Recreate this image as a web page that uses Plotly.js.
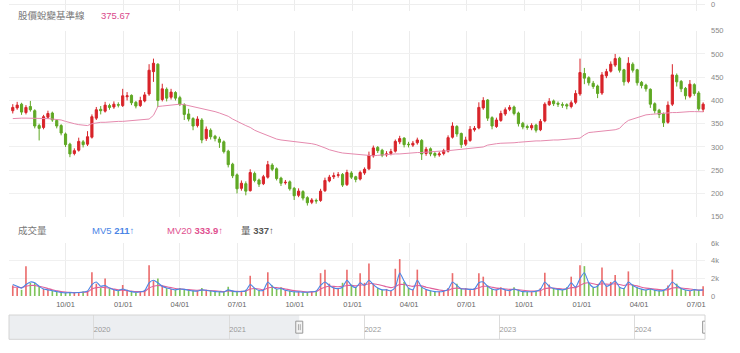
<!DOCTYPE html>
<html>
<head>
<meta charset="utf-8">
<script src="https://cdn.plot.ly/plotly-3.0.1.min.js"></script>
<style>html,body{margin:0;padding:0;background:#fff;}#chart{width:740px;height:353px;}</style>
</head>
<body>
<div id="chart"></div>
<script>
// Weekly sampling of the daily chart (Fridays)
const dates = [
'2021-07-09','2021-07-16','2021-07-23','2021-07-30','2021-08-06','2021-08-13','2021-08-20','2021-08-27','2021-09-03','2021-09-10',
'2021-09-17','2021-09-24','2021-10-01','2021-10-08','2021-10-15','2021-10-22','2021-10-29','2021-11-05','2021-11-12','2021-11-19',
'2021-11-26','2021-12-03','2021-12-10','2021-12-17','2021-12-24','2021-12-31',
'2022-01-07','2022-01-14','2022-01-21','2022-01-28','2022-02-04','2022-02-11','2022-02-18','2022-02-25','2022-03-04','2022-03-11',
'2022-03-18','2022-03-25','2022-04-01','2022-04-08','2022-04-15','2022-04-22','2022-04-29','2022-05-06','2022-05-13','2022-05-20',
'2022-05-27','2022-06-03','2022-06-10','2022-06-17','2022-06-24','2022-07-01','2022-07-08','2022-07-15','2022-07-22','2022-07-29',
'2022-08-05','2022-08-12','2022-08-19','2022-08-26','2022-09-02','2022-09-09','2022-09-16','2022-09-23','2022-09-30','2022-10-07',
'2022-10-14','2022-10-21','2022-10-28','2022-11-04','2022-11-11','2022-11-18','2022-11-25','2022-12-02','2022-12-09','2022-12-16',
'2022-12-23','2022-12-30',
'2023-01-06','2023-01-13','2023-01-20','2023-01-27','2023-02-03','2023-02-10','2023-02-17','2023-02-24','2023-03-03','2023-03-10',
'2023-03-17','2023-03-24','2023-03-31','2023-04-07','2023-04-14','2023-04-21','2023-04-28','2023-05-05','2023-05-12','2023-05-19',
'2023-05-26','2023-06-02','2023-06-09','2023-06-16','2023-06-23','2023-06-30','2023-07-07','2023-07-14','2023-07-21','2023-07-28',
'2023-08-04','2023-08-11','2023-08-18','2023-08-25','2023-09-01','2023-09-08','2023-09-15','2023-09-22','2023-09-29','2023-10-06',
'2023-10-13','2023-10-20','2023-10-27','2023-11-03','2023-11-10','2023-11-17','2023-11-24','2023-12-01','2023-12-08','2023-12-15',
'2023-12-22','2023-12-29',
'2024-01-05','2024-01-12','2024-01-19','2024-01-26','2024-02-02','2024-02-09','2024-02-16','2024-02-23','2024-03-01','2024-03-08',
'2024-03-15','2024-03-22','2024-03-29','2024-04-05','2024-04-12','2024-04-19','2024-04-26','2024-05-03','2024-05-10','2024-05-17',
'2024-05-24','2024-05-31','2024-06-07','2024-06-14','2024-06-21','2024-06-28','2024-07-05','2024-07-12'
];

const openP = [
378,384,392,374,387,378,346,342,364,373, 357,346,328,306,286,293,311,306,321,362,
381,377,389,386,391,389,408,411,396,389, 399,414,462,478,402,424,407,417,406,391,
371,361,346,358,318,336,323,317,311,291, 263,240,211,221,206,243,229,221,235,261,
253,233,223,225,211,196,204,191,181,185, 185,206,227,236,239,241,219,244,236,231,
244,253,281,299,293,283,286,291,311,319, 306,304,309,314,286,296,286,283,286,291,
321,344,329,306,314,337,341,384,401,363, 344,357,371,381,386,373,351,344,341,347,
337,356,391,399,394,391,391,387,396,414, 458,449,437,431,416,453,463,476,491,466,
441,478,466,439,433,424,393,379,371,353, 392,454,441,426,409,434,416,381
];
const highP = [
392,397,395,390,399,381,350,369,378,376, 360,349,331,309,297,320,315,334,370,386,
388,397,393,398,396,425,418,413,399,408, 418,478,490,480,436,428,425,420,410,394,
382,364,366,362,344,340,326,322,314,294, 266,243,228,226,252,247,232,240,270,265,
256,236,229,228,214,211,207,194,190,189, 210,234,240,245,246,244,251,248,238,249,
256,290,303,302,296,291,296,316,324,321, 311,313,320,317,300,299,289,290,296,325,
353,347,331,322,345,345,396,407,403,366, 363,378,385,390,389,376,354,348,351,350,
360,396,405,402,398,396,394,400,422,490, 470,452,442,434,461,468,484,500,494,468,
493,482,468,442,436,426,396,382,374,398, 478,458,444,429,444,437,420,396
];
const lowP = [
372,380,369,370,376,340,314,338,360,354, 340,325,300,278,282,290,299,302,318,358,
370,374,380,382,385,386,400,390,383,386, 396,410,440,386,398,398,402,400,388,358,
355,336,342,308,313,316,312,298,286,256, 233,200,206,196,204,224,214,218,232,248,
228,216,219,206,186,192,185,174,177,178, 182,203,224,231,234,214,216,231,224,228,
240,250,277,287,278,279,282,288,306,299, 299,300,305,272,281,280,277,279,282,288,
318,322,298,302,311,333,338,380,356,338, 341,354,367,377,368,344,338,337,336,331,
334,353,388,388,386,384,381,383,392,410, 435,432,425,405,412,448,460,472,460,432,
437,460,432,426,419,384,372,362,343,350, 388,430,418,402,405,410,378,375
];
const closeP = [
385,390,375,385,380,345,340,365,372,358, 345,330,305,285,292,312,305,322,365,380,
378,390,385,392,390,410,410,395,388,400, 412,465,480,400,425,405,418,405,392,370,
360,345,360,315,338,322,318,310,290,262, 238,210,222,205,245,228,220,236,262,252,
232,222,224,210,195,205,190,180,186,184, 205,228,235,238,240,218,245,235,230,245,
252,282,298,292,282,285,290,312,318,305, 305,308,315,285,295,285,282,285,292,320,
345,328,305,315,338,340,385,400,362,345, 358,372,380,385,372,350,343,342,346,336,
355,392,398,393,392,390,388,395,415,460, 448,438,430,415,455,462,478,490,465,440,
480,465,438,432,425,392,378,370,352,390, 455,440,425,410,435,415,382,392
];
// 股價蛻變基準線
const baseline = [
361,362,362,362,362,362,361,361,361,360, 359,358,355,352,350,348,347,346,350,352,
353,353,354,354,355,355,356,357,357,358, 359,360,368,387,388,389,390,391,392,391,
389,387,385,383,381,379,376,373,370,366, 360,355,350,346,342,336,332,328,324,320,
317,315,314,313,312,311,310,309,307,305, 302,298,294,291,289,287,286,285,284,283,
282,281,281,282,283,284,284,285,285,286, 287,287,288,288,289,289,290,291,291,292,
293,293,294,295,296,297,298,300,304,306, 307,308,308,309,309,310,311,312,312,313,
313,314,314,315,315,316,316,317,318,319, 326,331,332,333,334,335,336,337,340,350,
357,360,363,366,369,370,371,372,372,373, 374,374,375,375,376,376,376,375.67
];
const volume = [
1200,900,700,3400,1500,1500,1100,800,700,600, 500,400,350,400,350,400,500,600,2700,1400,
900,2000,800,700,600,1250,700,500,400,500, 700,3500,1700,2000,1200,900,800,700,900,800,
700,600,600,900,700,600,500,500,450,1050, 600,500,600,700,2300,800,600,700,2700,1200,
800,1000,700,600,500,500,400,450,500,600, 2600,3000,1400,1000,900,1500,3000,1300,1000,2600,
1500,3700,1400,900,700,800,600,3100,4200,1600, 900,700,3000,1000,800,600,500,500,600,900,
2600,1400,800,900,800,900,2600,2200,1200,800, 700,1000,700,600,1000,700,500,500,500,600,
900,2650,1300,900,800,700,1000,2200,1100,3500, 3400,1500,1000,1300,3250,1200,1600,2400,1000,900,
2800,1300,1000,800,700,900,700,600,700,1200, 3000,1400,900,700,600,800,700,1100
];
const mv5 = [
1300,1100,900,1300,1600,1500,1100,800,700,600, 500,400,350,380,360,400,450,550,1300,1600,
1100,1200,900,700,600,800,650,500,420,480, 600,1500,1800,1500,1100,900,800,700,800,750,
650,580,560,700,650,560,500,480,450,700, 550,480,520,600,1300,900,620,650,1600,1100,
800,850,650,560,480,470,420,430,480,550, 1200,1600,1200,900,850,1000,1800,1200,950,1500,
1200,1800,1300,900,700,700,600,1000,2600,1700, 900,700,1800,1000,750,600,500,480,550,750,
1600,1200,800,800,750,800,1500,1600,1100,800, 700,850,700,600,800,650,500,480,480,550,
750,1600,1100,850,750,700,850,1500,1000,2000, 2650,1500,1000,1100,1800,1100,1300,1700,1000,850,
1600,1200,950,780,680,800,650,580,640,950, 1600,1200,850,680,600,720,650,700
];
const mv20 = [
1000,1000,950,1100,1200,1200,1100,1000,850,700, 600,500,450,420,400,400,420,450,800,950,
1000,950,900,800,700,650,600,550,500,500, 520,900,1100,1200,1150,1050,950,850,800,760,
720,680,650,680,660,620,580,540,500,560, 550,530,520,540,800,850,800,700,900,1000,
950,900,800,700,620,560,500,460,470,500, 800,1000,1100,1100,1050,1100,1200,1200,1150,1250,
1250,1400,1400,1300,1200,1050,950,1100,1300,1300, 1200,1100,1200,1150,1000,900,780,680,620,650,
850,900,850,800,750,750,950,1100,1100,1000, 900,850,800,750,750,700,650,600,560,560,
600,850,900,900,850,800,800,950,950,1200, 1450,1500,1400,1300,1400,1350,1350,1400,1300,1200,
1300,1250,1150,1000,900,850,780,720,680,720, 900,950,900,850,800,720,680,650
];
// latest values shown in the legends
const lastMV5 = '211';
const lastMV20 = '333.9';
const lastVol = '337';

const viewRange = ['2021-07-03', '2024-07-15'];
const navRange = ['2019-05-17', '2024-07-09'];

const RED = '#d8242a', GREEN = '#5fa824';
const FONT = "'Liberation Sans', Arial, 'Noto Sans CJK TC', sans-serif";

const volColors = closeP.map((c, i) => c >= openP[i] ? 'rgba(228,60,60,0.75)' : 'rgba(95,180,50,0.8)');

const traces = [
  {type:'candlestick', x:dates, open:openP, high:highP, low:lowP, close:closeP, xaxis:'x', yaxis:'y',
   increasing:{line:{color:RED,width:1}, fillcolor:RED}, decreasing:{line:{color:GREEN,width:1}, fillcolor:GREEN},
   whiskerwidth:0, hoverinfo:'skip'},
  {type:'scatter', mode:'lines', x:dates, y:baseline, xaxis:'x', yaxis:'y', line:{color:'#e58aae', width:1}, hoverinfo:'skip'},
  {type:'bar', x:dates, y:volume, xaxis:'x', yaxis:'y2', marker:{color:volColors, line:{width:0}}, width:2.6*86400000, hoverinfo:'skip'},
  {type:'scatter', mode:'lines', x:dates, y:mv20, xaxis:'x', yaxis:'y2', line:{color:'#e0609a', width:1.1, shape:'spline', smoothing:0.6}, hoverinfo:'skip'},
  {type:'scatter', mode:'lines', x:dates, y:mv5, xaxis:'x', yaxis:'y2', line:{color:'#4a85e6', width:1.1, shape:'spline', smoothing:0.6}, hoverinfo:'skip'},
  {type:'scatter', mode:'lines', x:dates.slice(0,2), y:[null,null], xaxis:'x', yaxis:'y4', hoverinfo:'skip'},
  {type:'scatter', mode:'lines', x:[], y:[], xaxis:'x2', yaxis:'y3', hoverinfo:'skip'}
];

const axisBase = {showline:false, zeroline:false, ticks:'', fixedrange:true};
const layout = {
  width:740, height:353, margin:{l:9, r:35, t:0, b:0},
  paper_bgcolor:'#ffffff', plot_bgcolor:'#ffffff', showlegend:false,
  font:{family:FONT, size:7.5, color:'#888'},
  xaxis:Object.assign({}, axisBase, {type:'date', anchor:'y2', domain:[0,1], range:viewRange,
    dtick:'M3', tick0:'2021-10-01', tickformat:'%m/%d', showgrid:true, gridcolor:'#ececec', gridwidth:1,
    rangeslider:{visible:false}, tickfont:{size:7.5, color:'#666'}, ticklabelstandoff:3}),
  yaxis:Object.assign({}, axisBase, {anchor:'x', domain:[0.3861,0.9130], range:[150,550], dtick:50, side:'right',
    showgrid:true, gridcolor:'#f0f0f0', tickfont:{size:7.5, color:'#888'}, ticklabelstandoff:5}),
  yaxis2:Object.assign({}, axisBase, {anchor:'x', domain:[0.1615,0.3108], range:[0,6000], dtick:2000, tickformat:'~s', side:'right',
    showgrid:true, gridcolor:'#f0f0f0', tickfont:{size:7.5, color:'#888'}, ticklabelstandoff:5}),
  yaxis4:Object.assign({}, axisBase, {anchor:'x', domain:[0.97,1], range:[-6,4], tickvals:[0], side:'right',
    showgrid:true, gridcolor:'#eeeeee', tickfont:{size:7.5, color:'#888'}, ticklabelstandoff:5, ticklabeloverflow:'allow'}),
  xaxis2:Object.assign({}, axisBase, {type:'date', anchor:'y3', domain:[0,1], range:navRange,
    dtick:'M12', tick0:'2020-01-01', tickformat:'%Y', ticklabelposition:'inside right',
    showgrid:true, gridcolor:'#dcdcdc', tickfont:{size:7.5, color:'#999'}}),
  yaxis3:Object.assign({}, axisBase, {anchor:'x2', domain:[0.0388,0.1076], range:[0,1], showgrid:false, showticklabels:false}),
  shapes:[
    {type:'rect', xref:'x2', yref:'y3 domain', x0:navRange[0], x1:dates[0], y0:0, y1:1,
     fillcolor:'#eceef1', line:{width:0}, layer:'below'},
    {type:'rect', xref:'x2 domain', yref:'y3 domain', x0:0, x1:1, y0:0, y1:1,
     fillcolor:'rgba(0,0,0,0)', line:{color:'#d4d4d4', width:1}},
    {type:'rect', xref:'x2', yref:'y3', xsizemode:'pixel', ysizemode:'pixel', xanchor:dates[0], yanchor:0.5,
     x0:-3.5, x1:3.5, y0:-6, y1:6, fillcolor:'#f4f4f4', line:{color:'#999', width:1}},
    {type:'line', xref:'x2', yref:'y3', xsizemode:'pixel', ysizemode:'pixel', xanchor:dates[0], yanchor:0.5,
     x0:-0.8, x1:-0.8, y0:-3, y1:3, line:{color:'#999', width:0.8}},
    {type:'line', xref:'x2', yref:'y3', xsizemode:'pixel', ysizemode:'pixel', xanchor:dates[0], yanchor:0.5,
     x0:1, x1:1, y0:-3, y1:3, line:{color:'#999', width:0.8}},
    {type:'rect', xref:'x2', yref:'y3', xsizemode:'pixel', ysizemode:'pixel', xanchor:dates[dates.length-1], yanchor:0.5,
     x0:-3.5, x1:3.5, y0:-6, y1:6, fillcolor:'#f4f4f4', line:{color:'#999', width:1}},
    {type:'line', xref:'x2', yref:'y3', xsizemode:'pixel', ysizemode:'pixel', xanchor:dates[dates.length-1], yanchor:0.5,
     x0:-0.8, x1:-0.8, y0:-3, y1:3, line:{color:'#999', width:0.8}},
    {type:'line', xref:'x2', yref:'y3', xsizemode:'pixel', ysizemode:'pixel', xanchor:dates[dates.length-1], yanchor:0.5,
     x0:1, x1:1, y0:-3, y1:3, line:{color:'#999', width:0.8}}
  ],
  annotations:[
    {xref:'paper', yref:'paper', x:0.0105, y:0.9547, xanchor:'left', yanchor:'middle', showarrow:false,
     text:'股價蛻變基準線', font:{family:FONT, size:9.5, color:'#777'}},
    {xref:'paper', yref:'paper', x:0.1300, y:0.9547, xanchor:'left', yanchor:'middle', showarrow:false,
     text:String(baseline[baseline.length-1]), font:{family:FONT, size:9.5, color:'#d9488a'}},
    {xref:'paper', yref:'paper', x:0.0105, y:0.3484, xanchor:'left', yanchor:'middle', showarrow:false,
     text:'成交量', font:{family:FONT, size:9.5, color:'#777'}},
    {xref:'paper', yref:'paper', x:0.1165, y:0.3484, xanchor:'left', yanchor:'middle', showarrow:false,
     text:'MV5 <b>' + lastMV5 + '</b>↑', font:{family:FONT, size:9.5, color:'#4a85e6'}},
    {xref:'paper', yref:'paper', x:0.2240, y:0.3484, xanchor:'left', yanchor:'middle', showarrow:false,
     text:'MV20 <b>' + lastMV20 + '</b>↑', font:{family:FONT, size:9.5, color:'#e0508f'}},
    {xref:'paper', yref:'paper', x:0.3305, y:0.3484, xanchor:'left', yanchor:'middle', showarrow:false,
     text:'量 <b>' + lastVol + '</b>↑', font:{family:FONT, size:9.5, color:'#555'}}
  ]
};

Plotly.newPlot('chart', traces, layout, {staticPlot:true, displayModeBar:false});
</script>
</body>
</html>
